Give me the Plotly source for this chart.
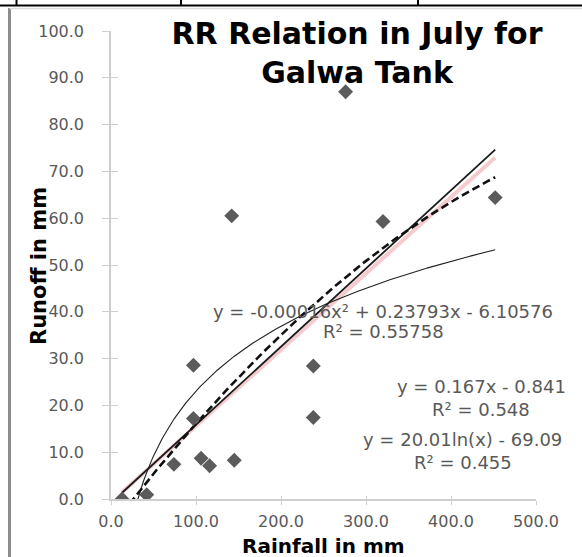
import numpy as np
import plotly.graph_objects as go

# ---------------- data ----------------
rainfall_mm = [13, 42, 74, 97, 97, 106, 116, 145, 238, 238, 142, 276, 320, 452]
runoff_mm = [0.0, 0.9, 7.4, 28.6, 17.2, 8.7, 7.1, 8.3, 28.4, 17.4, 60.5, 87.0, 59.3, 64.4]

# trendline coefficients (as printed on the chart)
poly_coef = [-0.00016, 0.23793, -6.10576]   # a x^2 + b x + c
lin_coef = [0.167, -0.841]                   # m x + c
log_coef = [20.01, -69.09]                   # a ln(x) + b
shadow_coef = [0.163, -0.7]                  # faint pink companion line

eq_poly = ["y = -0.00016x² + 0.23793x - 6.10576", "R² = 0.55758"]
eq_lin = ["y = 0.167x - 0.841", "R² = 0.548"]
eq_log = ["y = 20.01ln(x) - 69.09", "R² = 0.455"]

x_ticks = [0, 100, 200, 300, 400, 500]
y_ticks = [0, 10, 20, 30, 40, 50, 60, 70, 80, 90, 100]

# ---------------- geometry helpers ----------------
W, H = 582, 557
ML, MR, MT, MB = 111, 46, 31, 58
PW, PH = W - ML - MR, H - MT - MB


def px(xp):
    return (xp - ML) / PW


def py(yp):
    return (H - MB - yp) / PH


xs = np.linspace(min(rainfall_mm), max(rainfall_mm), 300)
y_poly = np.polyval(poly_coef, xs)
y_lin = lin_coef[0] * xs + lin_coef[1]
y_log = log_coef[0] * np.log(xs) + log_coef[1]
y_shadow = shadow_coef[0] * xs + shadow_coef[1]

fig = go.Figure()
fig.add_trace(go.Scatter(x=xs, y=y_shadow, mode="lines",
                         line=dict(color="rgba(235,160,165,0.55)", width=4),
                         hoverinfo="skip", showlegend=False))
fig.add_trace(go.Scatter(x=xs, y=y_lin, mode="lines",
                         line=dict(color="#1a1a1a", width=1.8),
                         name="Linear", showlegend=False))
fig.add_trace(go.Scatter(x=xs, y=y_log, mode="lines",
                         line=dict(color="#222222", width=1.1),
                         name="Log", showlegend=False))
fig.add_trace(go.Scatter(x=xs, y=y_poly, mode="lines",
                         line=dict(color="#111111", width=2.6, dash="8px,4px"),
                         name="Poly", showlegend=False))
fig.add_trace(go.Scatter(x=rainfall_mm, y=runoff_mm, mode="markers",
                         marker=dict(symbol="diamond", size=11.5, color="#5b5b5b"),
                         name="Runoff", showlegend=False))

tick_font = dict(family="DejaVu Sans", size=16, color="#595959")
axis_col = "#cfcfcf"

fig.update_layout(
    width=W, height=H,
    margin=dict(l=ML, r=MR, t=MT, b=MB, pad=0),
    paper_bgcolor="white", plot_bgcolor="white",
    title=dict(text="RR Relation in July for<br>Galwa Tank",
               font=dict(family="DejaVu Sans", size=30, color="#000000", weight="bold"),
               x=px(357), xref="paper", xanchor="center",
               y=1 - 44 / H, yref="container", yanchor="middle"),
    xaxis=dict(range=[0, 500], tickvals=x_ticks,
               ticktext=[f"{v:.1f}" for v in x_ticks],
               showgrid=False, zeroline=False,
               showline=True, linecolor=axis_col, linewidth=1.5,
               ticks="outside", ticklen=4, tickcolor=axis_col, tickwidth=1,
               tickfont=tick_font, ticklabelstandoff=3),
    yaxis=dict(range=[0, 100], tickvals=y_ticks,
               ticktext=[f"{v:.1f}" for v in y_ticks],
               showgrid=False, zeroline=False,
               showline=True, linecolor=axis_col, linewidth=1.5,
               ticks="outside", ticklen=7, tickcolor=axis_col, tickwidth=1,
               tickfont=tick_font, ticklabelstandoff=15),
    xaxis2=dict(range=[0, 500], tickvals=x_ticks, overlaying="x", anchor="y",
                side="bottom", showticklabels=False, showgrid=False, zeroline=False,
                showline=False, ticks="inside", ticklen=3, tickcolor=axis_col),
    yaxis2=dict(range=[0, 100], tickvals=y_ticks, overlaying="y", anchor="x",
                side="left", showticklabels=False, showgrid=False, zeroline=False,
                showline=False, ticks="inside", ticklen=7, tickcolor=axis_col),
)

# dummy invisible trace so the overlay axes are drawn
fig.add_trace(go.Scatter(x=[0], y=[0], xaxis="x2", yaxis="y2", mode="markers",
                         marker=dict(opacity=0), hoverinfo="skip", showlegend=False))

eq_font = dict(family="DejaVu Sans", size=18, color="#595959")
ann = []
for (text, xc, yc) in [
    (eq_poly[0], 383, 311.7), (eq_poly[1], 383, 331.7),
    (eq_lin[0], 481, 386.7), (eq_lin[1], 481, 409),
    (eq_log[0], 462.5, 439.3), (eq_log[1], 463, 462.3),
]:
    ann.append(dict(text=text, x=px(xc), y=py(yc), xref="paper", yref="paper",
                    xanchor="center", yanchor="middle", showarrow=False, font=eq_font))

ann.append(dict(text="<b>Runoff in mm</b>", x=px(39), y=py(266), xref="paper", yref="paper",
                xanchor="center", yanchor="middle", textangle=-90, showarrow=False,
                font=dict(family="DejaVu Sans", size=21, color="#000000")))
ann.append(dict(text="<b>Rainfall in mm</b>", x=px(323.5), y=py(559), xref="paper", yref="paper",
                xanchor="center", yanchor="bottom", showarrow=False, borderpad=0,
                font=dict(family="DejaVu Sans", size=20, color="#000000")))
fig.update_layout(annotations=ann)

# document frame lines (table border above the chart, chart border at left/top)
frame = []
frame.append(dict(type="line", xref="paper", yref="paper", x0=px(0), x1=px(W), y0=py(5.5), y1=py(5.5),
                  line=dict(color="black", width=2)))
for xv in [16.5, 181, 418]:
    frame.append(dict(type="line", xref="paper", yref="paper", x0=px(xv), x1=px(xv), y0=py(0), y1=py(5.5),
                      line=dict(color="black", width=2)))
frame.append(dict(type="line", xref="paper", yref="paper", x0=px(9.5), x1=px(9.5), y0=py(8), y1=py(H),
                  line=dict(color="#8c8c8c", width=3)))
frame.append(dict(type="line", xref="paper", yref="paper", x0=px(9.5), x1=px(W), y0=py(8.5), y1=py(8.5),
                  line=dict(color="#dcdcdc", width=1.5)))
fig.update_layout(shapes=frame)

fig.write_html("out.html", config={"displayModeBar": False},
               post_script="document.body.style.margin='0px';document.body.style.overflow='hidden';")
